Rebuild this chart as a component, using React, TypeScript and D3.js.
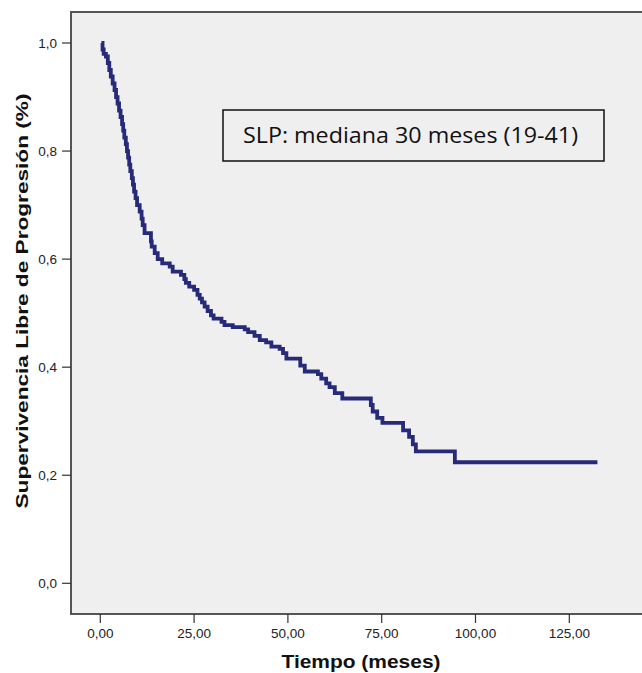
import React from "react";
import * as d3 from "d3";

const times: number[] = [
  0.3, 0.6, 0.9, 1.5, 2.0, 2.4, 2.8, 3.3, 3.8, 4.2, 4.6, 5.0, 5.4, 5.8, 6.1, 6.4, 6.8, 7.1, 7.4, 7.7,
  8.0, 8.4, 8.7, 9.0, 9.4, 9.8, 10.5, 11.0, 11.3, 11.8, 13.5, 13.7, 14.5, 15.3, 16.5, 18.5, 19.3, 21.5,
  22.4, 22.8, 23.7, 25.0, 25.9, 26.5, 27.1, 27.8, 28.6, 29.5, 30.2, 32.3, 33.1, 35.3, 38.5, 39.4, 41.1,
  42.5, 44.2, 45.6, 47.8, 48.7, 49.6, 53.3, 54.5, 58.0, 58.9, 60.2, 61.1, 62.5, 64.5, 72.1, 72.6, 73.8,
  75.2, 80.7, 82.3, 83.3, 84.1, 94.5, 132.5,
];
const survival: number[] = [
  1.0, 0.988, 0.98, 0.975, 0.963, 0.95, 0.938, 0.925, 0.913, 0.9, 0.888, 0.875, 0.863, 0.85, 0.838,
  0.825, 0.813, 0.8, 0.788, 0.775, 0.763, 0.75, 0.738, 0.725, 0.713, 0.7, 0.688, 0.675, 0.663, 0.648,
  0.633, 0.623, 0.611, 0.6, 0.592, 0.586, 0.577, 0.571, 0.563, 0.556, 0.549, 0.543, 0.534, 0.527, 0.52,
  0.512, 0.504, 0.496, 0.49, 0.484, 0.478, 0.474, 0.47, 0.465, 0.458, 0.45, 0.446, 0.438, 0.434, 0.426,
  0.416, 0.403, 0.392, 0.387, 0.379, 0.37, 0.363, 0.352, 0.342, 0.33, 0.318, 0.306, 0.297, 0.283, 0.271,
  0.257, 0.244, 0.224, 0.224,
];
const xTicks: number[] = [0, 25, 50, 75, 100, 125];
const yTicks: number[] = [0, 0.2, 0.4, 0.6, 0.8, 1.0];
const xTitle = "Tiempo (meses)";
const yTitle = "Supervivencia Libre de Progresión (%)";
const annotation = "SLP: mediana 30 meses (19-41)";

const W = 642;
const H = 673;
const frame = { left: 71, top: 12, right: 644, bottom: 614 };

export default function App() {
  const x = d3.scaleLinear().domain([0, 125]).range([100.3, 569.3]);
  const y = d3.scaleLinear().domain([0, 1]).range([583.3, 43]);
  const data = times.map((t, i) => [t, survival[i]] as [number, number]);
  const line = d3
    .line<[number, number]>()
    .x((d) => x(d[0]))
    .y((d) => y(d[1]))
    .curve(d3.curveStepAfter);
  const fmtX = (v: number) => v.toFixed(2).replace(".", ",");
  const fmtY = (v: number) => v.toFixed(1).replace(".", ",");
  const axisFont = "Arial, 'Liberation Sans', sans-serif";
  return (
    <svg
      width={W}
      height={H}
      style={{ position: "absolute", left: 0, top: 0, background: "#fff" }}
    >
      <rect
        x={frame.left}
        y={frame.top}
        width={frame.right - frame.left}
        height={frame.bottom - frame.top}
        fill="#efefef"
        stroke="#444"
        strokeWidth={1.8}
      />
      {yTicks.map((v) => (
        <g key={"y" + v}>
          <line x1={62} x2={frame.left} y1={y(v)} y2={y(v)} stroke="#333" strokeWidth={1.2} />
          <text
            x={57}
            y={y(v)}
            dy="0.35em"
            textAnchor="end"
            fontFamily={axisFont}
            fontSize={13.5}
            fill="#222"
          >
            {fmtY(v)}
          </text>
        </g>
      ))}
      {xTicks.map((v) => (
        <g key={"x" + v}>
          <line x1={x(v)} x2={x(v)} y1={frame.bottom} y2={623} stroke="#333" strokeWidth={1.2} />
          <text
            x={x(v)}
            y={633.5}
            dy="0.35em"
            textAnchor="middle"
            fontFamily={axisFont}
            fontSize={13.5}
            fill="#222"
          >
            {fmtX(v)}
          </text>
        </g>
      ))}
      <text
        x={361}
        y={661}
        dy="0.35em"
        textAnchor="middle"
        fontFamily={axisFont}
        fontWeight="bold"
        fontSize={19}
        textLength={159}
        lengthAdjust="spacingAndGlyphs"
        fill="#111"
      >
        {xTitle}
      </text>
      <text
        transform={`translate(22,301) rotate(-90)`}
        dy="0.35em"
        textAnchor="middle"
        fontFamily={axisFont}
        fontWeight="bold"
        fontSize={17}
        textLength={415}
        lengthAdjust="spacingAndGlyphs"
        fill="#111"
      >
        {yTitle}
      </text>
      <path
        d={line(data) || ""}
        fill="none"
        stroke="#262a78"
        strokeWidth={3.8}
        strokeLinejoin="miter"
      />
      <rect x={223} y={110} width={381} height={51} fill="#efefef" stroke="#111" strokeWidth={1.5} />
      <text
        x={410.5}
        y={136}
        dy="0.35em"
        textAnchor="middle"
        fontFamily="'Open Sans', 'Noto Sans', sans-serif"
        fontSize={21}
        textLength={335}
        lengthAdjust="spacingAndGlyphs"
        fill="#111"
      >
        {annotation}
      </text>
    </svg>
  );
}
